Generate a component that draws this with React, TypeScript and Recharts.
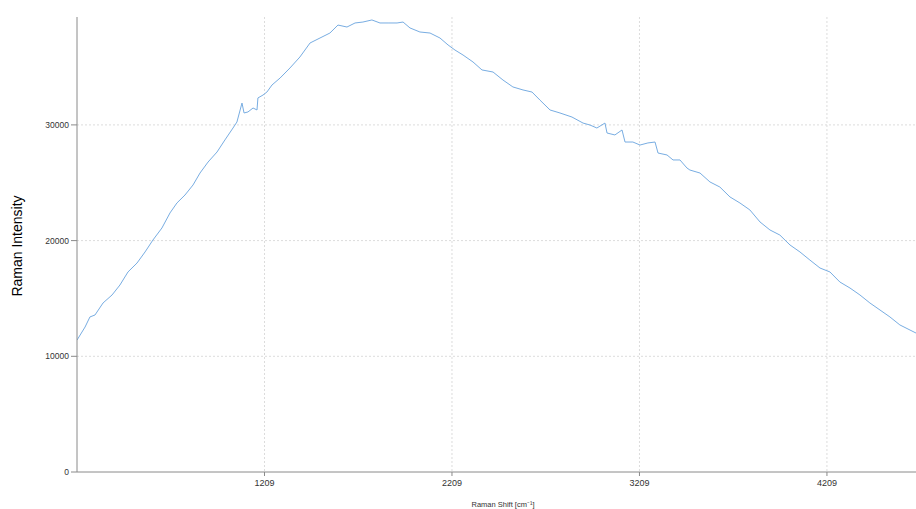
import React from 'react';
import { LineChart, Line, XAxis, YAxis, CartesianGrid, Label } from 'recharts';

const shift: number[] = [
  209, 252, 278, 305, 348, 396, 438, 481, 529, 572, 614, 662, 705, 742, 785, 828, 865, 908, 956, 998,
  1041, 1062, 1089, 1100, 1121, 1148, 1169, 1174, 1201, 1222, 1249, 1292, 1345, 1398, 1452, 1505, 1558, 1601, 1649, 1692,
  1734, 1782, 1825, 1868, 1916, 1948, 1985, 2038, 2092, 2145, 2188, 2225, 2268, 2321, 2369, 2428, 2481, 2534, 2588, 2636,
  2678, 2732, 2785, 2849, 2908, 2945, 2982, 3025, 3036, 3078, 3116, 3132, 3174, 3212, 3254, 3292, 3308, 3356, 3388, 3425,
  3462, 3478, 3532, 3585, 3638, 3692, 3745, 3798, 3852, 3905, 3958, 4012, 4065, 4118, 4172, 4225, 4278, 4332, 4385, 4438,
  4492, 4545, 4598, 4652, 4684,
];

const intensity: number[] = [
  11400, 12530, 13400, 13570, 14610, 15300, 16160, 17290, 18060, 19020, 20050, 21090, 22390, 23250, 23940, 24810, 25840, 26790, 27660, 28700,
  29730, 30250, 31890, 31030, 31120, 31460, 31290, 32330, 32580, 32840, 33450, 34050, 34920, 35870, 37080, 37510, 37940, 38630, 38460, 38810,
  38890, 39070, 38810, 38810, 38810, 38890, 38380, 38030, 37940, 37510, 36910, 36470, 36040, 35440, 34750, 34570, 33880, 33280, 33020, 32840,
  32150, 31290, 31030, 30680, 30160, 29990, 29730, 30160, 29300, 29130, 29560, 28520, 28520, 28260, 28440, 28520, 27570, 27400, 26970, 26970,
  26280, 26100, 25840, 25070, 24630, 23770, 23250, 22650, 21610, 20920, 20480, 19620, 19020, 18320, 17630, 17290, 16420, 15900, 15300, 14610,
  14000, 13400, 12710, 12270, 12010,
];

const xTicks: number[] = [1209, 2209, 3209, 4209];
const yTicks: number[] = [0, 10000, 20000, 30000];

const data = shift.map((s, i) => ({ shift: s, intensity: intensity[i] }));

const FONT = '"Liberation Sans", Arial, sans-serif';

export default function App() {
  return (
    <div style={{ position: 'absolute', left: 0, top: 0, width: 916, height: 509, background: '#fff' }}>
      <LineChart width={916} height={509} data={data} margin={{ top: 17, right: 0, bottom: 0, left: 0 }}>
        <CartesianGrid stroke="#dcdcdc" strokeDasharray="2 2" verticalValues={xTicks} horizontalValues={[10000, 20000, 30000]} />
        <XAxis
          dataKey="shift"
          type="number"
          domain={[209, 4684]}
          ticks={xTicks}
          allowDataOverflow
          height={37}
          stroke="#8a8a8a"
          tickSize={4}
          tickMargin={4}
          tick={{ fontSize: 9, fill: '#333', fontFamily: FONT }}
        >
          <Label
            content={() => (
              <text x={503} y={507} textAnchor="middle" fontSize={7.5} fill="#333" fontFamily={FONT}>
                Raman Shift [cm⁻¹]
              </text>
            )}
          />
        </XAxis>
        <YAxis
          type="number"
          domain={[0, 39326]}
          ticks={yTicks}
          allowDataOverflow
          width={77}
          stroke="#8a8a8a"
          tickSize={6}
          tickMargin={2}
          tick={{ fontSize: 8.5, fill: '#333', fontFamily: FONT }}
        >
          <Label
            content={() => (
              <text
                x={22}
                y={246}
                transform="rotate(-90 22 246)"
                textAnchor="middle"
                fontSize={14}
                fill="#000"
                fontFamily={FONT}
              >
                Raman Intensity
              </text>
            )}
          />
        </YAxis>
        <Line
          type="linear"
          dataKey="intensity"
          stroke="#78ade2"
          strokeWidth={1}
          dot={false}
          isAnimationActive={false}
        />
      </LineChart>
    </div>
  );
}
